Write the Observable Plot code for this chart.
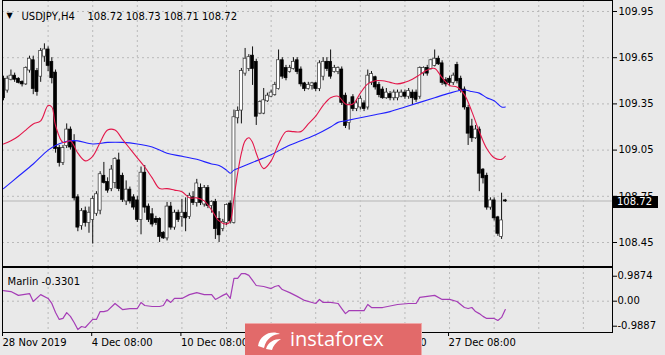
<!DOCTYPE html>
<html><head><meta charset="utf-8">
<script src="https://cdn.jsdelivr.net/npm/d3@7"></script>
<script src="https://cdn.jsdelivr.net/npm/@observablehq/plot@0.6"></script>
<style>
html,body{margin:0;padding:0;background:#e9e9e9;}
#wrap{position:relative;width:665px;height:355px;background:#e9e9e9;overflow:hidden;font-family:"DejaVu Sans",sans-serif;}
#main,#ind{position:absolute;left:0;}
#main{top:0;} #ind{top:267px;}
#plabel{position:absolute;left:613px;width:45px;height:12px;background:#000;color:#fff;font-family:"DejaVu Sans",sans-serif;font-size:10px;line-height:12px;text-indent:4px;}
#wm{position:absolute;left:245px;top:323px;width:177px;height:33px;background:#e26a6a;border-top:1px solid #f0a8a8;border-right:1px solid #f0a8a8;box-sizing:border-box;}
#wm span{position:absolute;left:45px;top:2px;color:#fff;font-family:"Open Sans",sans-serif;font-size:20px;line-height:26px;}
#wm svg{position:absolute;left:9px;top:4px;}
</style></head>
<body><div id="wrap"><div id="main"></div><div id="ind"></div><div id="plabel"></div>
<div id="wm"><svg width="30" height="24" viewBox="0 0 30 24"><path d="M4 18 C6 6, 18 2, 26 6 C20 6, 12 10, 10 20 Z" fill="#fff"/><path d="M12 21 C14 14, 20 11, 27 11 C22 14, 19 18, 18 22 Z" fill="#fff"/></svg><span>instaforex</span></div>
</div>
<script>
// ---- data ----
const symbol = "USDJPY";
const timeframe = "H4";
const opens = [109.51,109.44,109.51,109.53,109.51,109.49,109.48,109.57,109.63,109.56,109.53,109.66,109.70,109.62,109.55,109.06,108.97,109.08,109.18,109.10,108.74,108.56,108.65,108.58,108.60,108.64,108.66,108.88,108.84,108.80,108.84,108.98,108.88,108.72,108.79,108.74,108.72,108.60,108.90,108.68,108.63,108.60,108.60,108.51,108.48,108.68,108.55,108.64,108.62,108.64,108.62,108.74,108.71,108.80,108.70,108.80,108.69,108.71,108.60,108.54,108.58,108.70,108.58,109.26,109.31,109.55,109.58,109.66,109.62,109.29,109.29,109.37,109.40,109.41,109.45,109.63,109.58,109.56,109.58,109.63,109.57,109.48,109.45,109.47,109.48,109.45,109.53,109.62,109.62,109.56,109.56,109.57,109.40,109.23,109.39,109.32,109.33,109.35,109.33,109.49,109.52,109.47,109.44,109.39,109.41,109.39,109.39,109.40,109.42,109.40,109.42,109.42,109.40,109.55,109.58,109.58,109.60,109.64,109.61,109.50,109.51,109.49,109.60,109.51,109.44,109.32,109.20,109.13,109.18,108.92,108.88,108.68,108.72,108.61,108.49,108.72];
const highs = [109.53,109.53,109.57,109.55,109.52,109.50,109.59,109.66,109.66,109.58,109.71,109.74,109.72,109.65,109.57,109.08,109.08,109.22,109.20,109.15,108.76,108.67,108.68,108.68,108.75,108.78,108.91,108.97,108.87,108.95,109.00,109.03,108.90,108.85,108.81,108.76,108.75,108.94,108.95,108.70,108.67,108.62,108.61,108.52,108.71,108.71,108.66,108.66,108.73,108.74,108.77,108.78,108.86,108.83,108.82,108.82,108.72,108.73,108.65,108.60,108.70,108.72,109.31,109.33,109.58,109.71,109.67,109.72,109.64,109.37,109.45,109.42,109.44,109.49,109.70,109.65,109.60,109.60,109.65,109.65,109.59,109.49,109.49,109.49,109.49,109.63,109.65,109.65,109.70,109.60,109.59,109.59,109.42,109.36,109.41,109.37,109.40,109.37,109.57,109.56,109.53,109.49,109.46,109.45,109.43,109.44,109.44,109.44,109.44,109.45,109.44,109.44,109.59,109.59,109.60,109.64,109.70,109.66,109.63,109.52,109.53,109.55,109.62,109.53,109.46,109.34,109.25,109.21,109.20,108.93,108.90,108.74,108.74,108.62,108.77,108.73];
const lows = [109.37,109.42,109.50,109.49,109.48,109.46,109.47,109.55,109.41,109.40,109.49,109.62,109.56,109.48,109.03,108.94,108.95,109.06,109.05,108.72,108.52,108.53,108.55,108.51,108.44,108.62,108.63,108.83,108.77,108.78,108.80,108.78,108.71,108.69,108.70,108.66,108.58,108.50,108.64,108.58,108.55,108.56,108.45,108.47,108.46,108.53,108.53,108.58,108.55,108.52,108.60,108.69,108.68,108.69,108.68,108.67,108.64,108.47,108.45,108.52,108.56,108.57,108.57,109.22,109.22,109.53,109.56,109.47,109.21,109.28,109.28,109.36,109.39,109.40,109.44,109.51,109.50,109.55,109.57,109.54,109.46,109.43,109.44,109.44,109.43,109.43,109.50,109.56,109.51,109.55,109.54,109.34,109.19,109.18,109.30,109.30,109.31,109.30,109.31,109.47,109.44,109.39,109.38,109.38,109.37,109.37,109.37,109.39,109.38,109.38,109.34,109.36,109.38,109.53,109.53,109.57,109.59,109.60,109.47,109.46,109.47,109.47,109.48,109.42,109.31,109.08,109.10,109.12,108.78,108.83,108.66,108.66,108.59,108.49,108.47,108.71];
const closes = [109.39,109.51,109.53,109.51,109.49,109.48,109.58,109.64,109.45,109.43,109.69,109.70,109.60,109.52,109.06,108.97,109.06,109.18,109.07,108.74,108.55,108.65,108.58,108.64,108.73,108.76,108.89,108.84,108.79,108.92,108.99,108.80,108.73,108.79,108.72,108.68,108.60,108.90,108.68,108.60,108.57,108.58,108.49,108.48,108.68,108.55,108.64,108.60,108.64,108.61,108.75,108.71,108.83,108.71,108.80,108.69,108.71,108.54,108.50,108.58,108.69,108.59,109.26,109.30,109.56,109.64,109.65,109.58,109.27,109.36,109.37,109.40,109.42,109.47,109.63,109.53,109.52,109.58,109.62,109.56,109.48,109.45,109.47,109.48,109.45,109.61,109.62,109.58,109.53,109.58,109.58,109.36,109.21,109.34,109.32,109.35,109.38,109.32,109.53,109.54,109.46,109.41,109.39,109.42,109.39,109.42,109.42,109.42,109.40,109.43,109.39,109.38,109.58,109.58,109.55,109.63,109.64,109.61,109.49,109.48,109.49,109.53,109.50,109.44,109.33,109.16,109.13,109.18,108.90,108.87,108.68,108.72,108.61,108.51,108.59,108.72];

const redIdx = [0,2,4,6,8,10,12,13,14,16,18,20,22,24,26,28,30,32,34,36,38,40,42,44,46,48,50,52,54,56,58,60,61,62,63,64,65,66,67,68,70,72,74,76,78,80,82,84,86,88,90,92,94,96,98,100,102,104,106,108,110,112,114,116,118,120,122,124,126,128,130,132,134,135];
const redVal = [109.09,109.11,109.14,109.18,109.22,109.24,109.34,109.33,109.21,109.10,109.11,109.03,108.98,109.01,109.10,109.18,109.18,109.12,109.06,109.00,108.94,108.87,108.80,108.80,108.79,108.78,108.74,108.74,108.72,108.66,108.59,108.57,108.59,108.74,108.90,109.03,109.11,109.13,109.10,109.03,108.93,108.98,109.09,109.17,109.17,109.17,109.22,109.27,109.34,109.39,109.40,109.35,109.35,109.42,109.48,109.50,109.50,109.49,109.48,109.49,109.51,109.54,109.57,109.58,109.52,109.47,109.46,109.41,109.30,109.17,109.06,109.00,108.99,109.01];

const blueIdx = [0,4,8,12,14,16,18,20,24,28,32,36,40,44,48,52,56,58,60,61,62,64,68,72,76,80,84,88,90,92,96,100,104,108,112,116,120,124,126,128,130,132,134,135];
const blueVal = [108.80,108.88,108.96,109.05,109.08,109.10,109.11,109.11,109.09,109.10,109.10,109.09,109.07,109.03,109.01,108.99,108.96,108.95,108.92,108.90,108.92,108.94,108.98,109.02,109.07,109.11,109.15,109.20,109.23,109.24,109.26,109.28,109.30,109.33,109.36,109.39,109.42,109.44,109.43,109.42,109.39,109.37,109.33,109.33];

const marlinName = "Marlin";
const marlinIdx = [0,2,4,7,8,10,12,13,14,15,16,17,18,19,20,21,22,23,24,25,26,27,28,30,31,32,34,36,37,38,40,42,43,44,45,46,48,50,52,53,54,56,57,58,59,60,61,62,63,64,65,66,67,68,70,72,73,74,75,77,79,81,83,84,85,86,88,90,91,92,93,95,97,98,99,102,106,109,111,112,114,116,118,120,122,124,125,126,127,128,129,130,131,132,133,134,135];
const marlinVal = [0.42,0.38,0.23,0.30,-0.01,0.26,0.11,-0.09,-0.45,-0.72,-0.68,-0.45,-0.60,-0.84,-1.12,-1.00,-1.04,-0.88,-0.72,-0.72,-0.41,-0.41,-0.37,-0.09,-0.21,-0.33,-0.29,-0.29,-0.05,-0.17,-0.21,-0.21,-0.17,0.07,-0.05,0.11,0.11,0.26,0.34,0.30,0.26,0.26,0.07,0.15,0.23,0.30,0.11,0.90,0.90,1.09,1.09,1.02,0.82,0.62,0.58,0.50,0.58,0.62,0.46,0.34,0.19,0.03,-0.05,-0.09,0.07,-0.05,-0.05,-0.09,-0.29,-0.49,-0.37,-0.37,-0.37,-0.13,-0.25,-0.25,-0.13,-0.09,-0.09,0.15,0.19,0.23,0.07,0.07,-0.01,-0.25,-0.29,-0.25,-0.41,-0.49,-0.60,-0.68,-0.68,-0.68,-0.76,-0.64,-0.3301];

const priceTicks = [108.45,108.75,109.05,109.35,109.65,109.95];
const marlinTicks = [0.9874,0,-0.9887];
const timeIdx = [0,24,48,72,96,120];
const timeLabels = ["28 Nov 2019","4 Dec 08:00","10 Dec 08:00","16 Dec 08:00","20 Dec 08:00","27 Dec 08:00"];
const gridIdx = [12,24,36,48,60,72,84,96,108,120,132,144,156];

// ---- build ----
const N = opens.length;
const candles = opens.map((o,i)=>({k:i, open:o, high:highs[i], low:lows[i], close:closes[i]}));
const red = redIdx.map((k,i)=>({k, v:redVal[i]}));
const blue = blueIdx.map((k,i)=>({k, v:blueVal[i]}));
const marlin = marlinIdx.map((k,i)=>({k, v:marlinVal[i]}));
const last = candles[N-1];
const xDom = [-0.27, 163.84];
const font = "DejaVu Sans, sans-serif";
const dash = {stroke:"#b9b9b9", strokeOpacity:1, strokeDasharray:"2,3", strokeWidth:1};

const main = Plot.plot({
  width:665, height:266, marginLeft:2, marginRight:53, marginTop:0, marginBottom:0,
  style:{background:"transparent", fontFamily:font, fontSize:"10px", color:"#000", overflow:"visible"},
  x:{domain:xDom, axis:null},
  y:{domain:[108.2942,110.0214], axis:null},
  marks:[
    Plot.gridY(priceTicks, dash),
    Plot.gridX(gridIdx, dash),
    Plot.ruleY([last.close], {stroke:"#c6c6c6", strokeWidth:1.5}),
    Plot.ruleX(candles, {x:"k", y1:"low", y2:"high", stroke:"#111", strokeWidth:1, clip:true}),
    Plot.rect(candles, {x1:d=>d.k-0.4, x2:d=>d.k+0.4, y1:"open", y2:"close",
      fill:d=>d.close>d.open?"#fff":"#000", stroke:d=>d.close>d.open?"#333":"#000", strokeWidth:0.7,
      insetTop:-0.5, insetBottom:-0.5, clip:true}),
    Plot.line(blue, {x:"k", y:"v", stroke:"#2020ff", strokeWidth:1.1, curve:"catmull-rom"}),
    Plot.line(red, {x:"k", y:"v", stroke:"#e3174a", strokeWidth:1.1, curve:"catmull-rom"}),
    Plot.frame({stroke:"#000"}),
    Plot.axisY(priceTicks, {anchor:"right", tickSize:4, tickPadding:2, tickFormat:d=>d.toFixed(2), label:null, fontSize:10}),
    Plot.text(["\u25BC"], {frameAnchor:"top-left", dx:4, dy:12, textAnchor:"start", fontSize:8, fill:"#000"}),
    Plot.text([`${symbol},${timeframe}`], {frameAnchor:"top-left", dx:19, dy:12, textAnchor:"start", fontSize:10, fill:"#000"}),
    Plot.text([[last.open,last.high,last.low,last.close].map(v=>v.toFixed(2)).join(" ")], {frameAnchor:"top-left", dx:85, dy:12, textAnchor:"start", fontSize:10, fill:"#000"})
  ]
});
document.getElementById("main").appendChild(main);

// current price label box, placed with Plot's y scale
const yPos = main.scale("y").apply(last.close);
const pl = document.getElementById("plabel");
pl.style.top = (yPos - 4.5) + "px";
pl.textContent = last.close.toFixed(2);

const ind = Plot.plot({
  width:665, height:88, marginLeft:2, marginRight:53, marginTop:0, marginBottom:23,
  style:{background:"transparent", fontFamily:font, fontSize:"10px", color:"#000", overflow:"visible"},
  x:{domain:xDom, axis:null},
  y:{domain:[-1.237,1.332], axis:null},
  marks:[
    Plot.gridY([0], dash),
    Plot.gridX(gridIdx, dash),
    Plot.line(marlin, {x:"k", y:"v", stroke:"#a53db6", strokeWidth:1.2}),
    Plot.frame({stroke:"#000"}),
    Plot.axisY(marlinTicks, {anchor:"right", tickSize:4, tickPadding:1, tickFormat:d=>d===0?"0.00":d.toFixed(4), label:null}),
    Plot.axisX(timeIdx, {anchor:"bottom", tickSize:4, tickPadding:2, tickFormat:d=>timeLabels[timeIdx.indexOf(d)], textAnchor:"start", dx:-1, label:null}),
    Plot.text([`${marlinName} ${marlinVal[marlinVal.length-1].toFixed(4)}`], {frameAnchor:"top-left", dx:5, dy:10, textAnchor:"start", fontSize:10, fill:"#000"})
  ]
});
document.getElementById("ind").appendChild(ind);
</script>
</body></html>
